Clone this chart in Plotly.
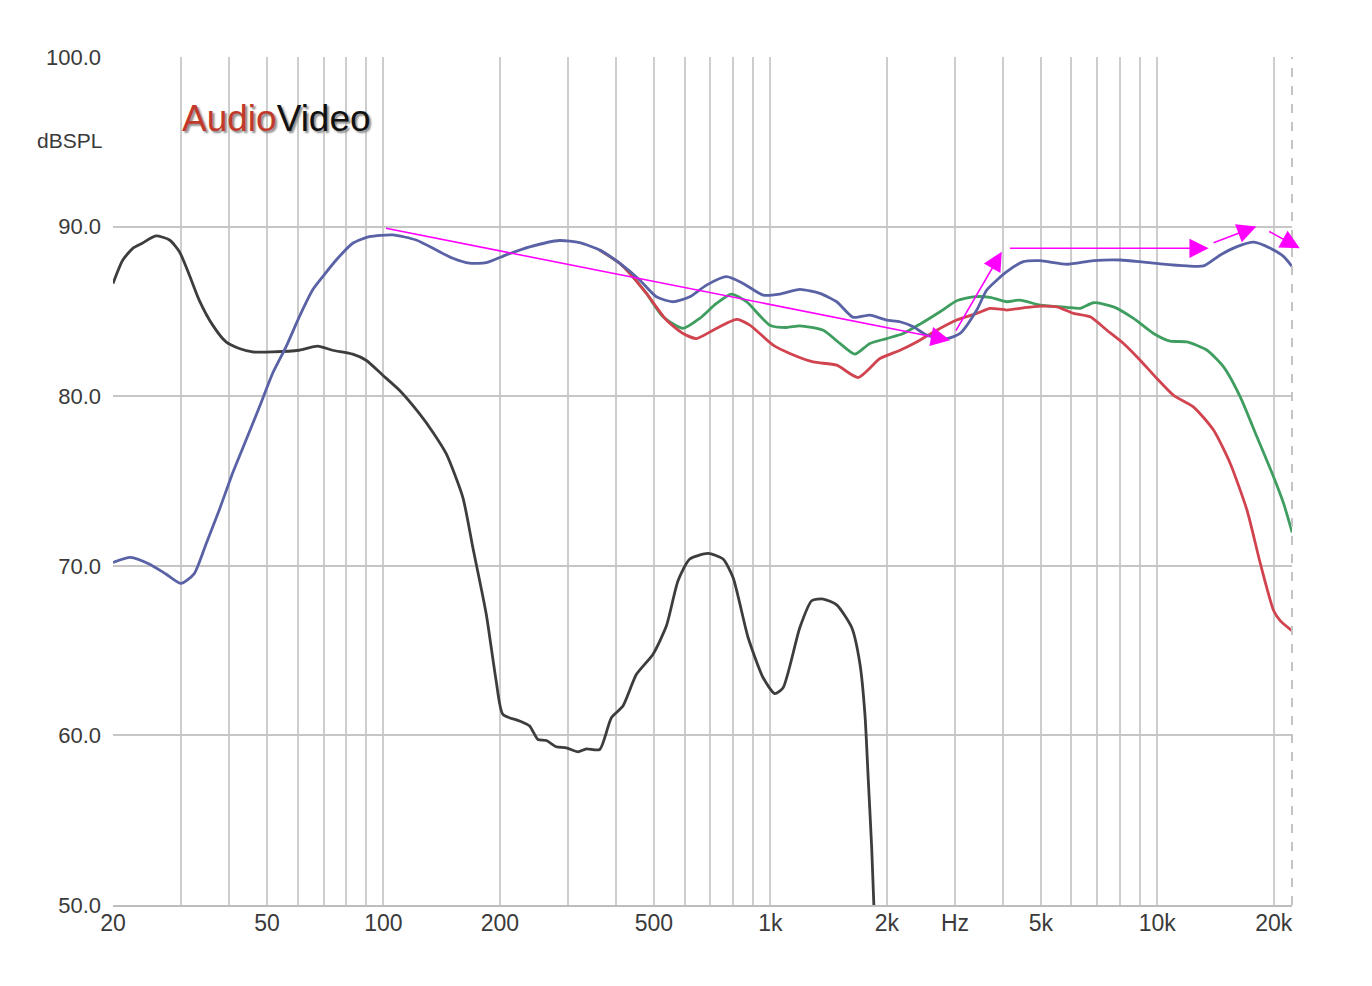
import numpy as np
import plotly.graph_objects as go

# frequency response curves (Hz, dBSPL)
black_hz = [20, 21.2, 22.5, 23.8, 25.8, 28.0, 29.7, 31.5, 33.4, 36.2, 39.2, 42.4, 45.9,
            51.7, 60.6, 67.6, 73.9, 83.3, 90.2, 99.6, 110, 123.9, 134.2, 145.3, 160.4,
            170.2, 184.4, 195.6, 203.5, 224.8, 238.7, 250.7, 263.6, 279.8, 297, 318.2,
            334.6, 362.2, 388.3, 416, 450.7, 497.5, 538.8, 577.3, 619, 690.4, 754.7, 801,
            876, 958, 1027, 1079, 1192, 1279, 1370, 1484, 1623, 1705, 1756, 1792, 1828, 1853]
black_db = [86.65, 88.03, 88.72, 89.02, 89.45, 89.21, 88.52, 87.15, 85.67, 84.19, 83.20,
            82.81, 82.61, 82.61, 82.71, 82.95, 82.71, 82.48, 82.12, 81.24, 80.35, 78.97,
            77.88, 76.61, 74.04, 71.09, 67.15, 63.21, 61.24, 60.85, 60.55, 59.76, 59.70,
            59.33, 59.27, 59.03, 59.21, 59.17, 61.04, 61.73, 63.60, 64.79, 66.46, 69.12,
            70.40, 70.73, 70.40, 69.31, 65.77, 63.40, 62.46, 62.81, 66.36, 67.94, 68.04,
            67.70, 66.36, 64.20, 61.24, 57.30, 53.36, 49.81]

blue_hz = [20, 22.2, 24.8, 27.4, 30.0, 32.4, 34.8, 37.6, 40.7, 44.1, 47.8, 51.7, 56.0,
           60.6, 65.6, 69.7, 75.5, 83.3, 92.0, 105.7, 121.5, 136.9, 151.1, 166.9, 184.4,
           207.7, 238.7, 285.4, 321.5, 362.2, 407.9, 459.6, 507.5, 560.5, 619, 683.8,
           770.2, 850.5, 958, 1058, 1192, 1343, 1484, 1638, 1809, 1998, 2163, 2342, 2536,
           2858, 3093, 3416, 3626, 4085, 4510, 4982, 5841, 6842, 8022, 9036, 10180, 11940,
           13180, 14560, 16080, 17750, 19610, 21230, 22320]
blue_db = [70.20, 70.50, 70.11, 69.52, 68.96, 69.52, 71.29, 73.26, 75.43, 77.39, 79.36,
           81.34, 82.91, 84.68, 86.26, 87.05, 88.03, 89.02, 89.41, 89.51, 89.21, 88.62,
           88.13, 87.84, 87.87, 88.33, 88.80, 89.18, 89.05, 88.62, 87.84, 86.85, 85.86,
           85.57, 85.86, 86.55, 87.05, 86.65, 85.96, 86.02, 86.30, 86.06, 85.57, 84.65,
           84.78, 84.49, 84.39, 84.09, 83.60, 83.40, 83.70, 85.08, 86.26, 87.34, 87.93,
           87.99, 87.78, 87.99, 88.03, 87.93, 87.80, 87.68, 87.68, 88.33, 88.82, 89.08,
           88.72, 88.23, 87.64]

green_hz = [362.2, 407.9, 433.0, 478.4, 528.1, 594.9, 657.0, 725.6, 793.4, 867.6, 997,
            1101, 1192, 1370, 1513, 1654, 1809, 1998, 2206, 2437, 2746, 3033, 3347, 3699,
            4085, 4420, 4982, 5841, 6322, 6842, 7708, 8684, 9781, 10800, 11940, 13450,
            14840, 16400, 18110, 20000, 21230, 22320]
green_db = [88.62, 87.84, 87.25, 86.06, 84.68, 84.00, 84.59, 85.47, 86.02, 85.57, 84.19,
            84.05, 84.15, 83.89, 83.11, 82.48, 83.11, 83.40, 83.70, 84.25, 84.98, 85.63,
            85.86, 85.83, 85.57, 85.67, 85.37, 85.24, 85.18, 85.51, 85.27, 84.59, 83.70,
            83.25, 83.20, 82.71, 81.73, 79.95, 77.59, 75.22, 73.65, 71.97]

red_hz = [362.2, 407.9, 433.0, 478.4, 538.8, 594.9, 644.2, 711.2, 817.7, 885.1, 1017,
          1123, 1291, 1484, 1687, 1920, 2163, 2389, 2692, 3033, 3416, 3699, 4085, 4510,
          4982, 5502, 6075, 6709, 7412, 8182, 9036, 9982, 11020, 12420, 13990, 15450,
          17070, 18480, 20000, 20810, 22320]
red_db = [88.62, 87.84, 87.25, 86.06, 84.49, 83.70, 83.40, 83.89, 84.53, 84.19, 83.01,
          82.52, 82.02, 81.83, 81.10, 82.22, 82.71, 83.20, 83.89, 84.49, 84.88, 85.18,
          85.08, 85.21, 85.31, 85.27, 84.88, 84.68, 83.89, 83.11, 82.12, 81.04, 80.05,
          79.36, 77.99, 76.02, 73.26, 70.11, 67.35, 66.75, 66.16]

# magenta arrows: tail (Hz, dB) -> head (Hz, dB)
arrow_tail_hz = [100.6, 3002, 4124, 13860, 19300]
arrow_tail_db = [89.92, 83.78, 88.72, 89.02, 89.76]
arrow_head_hz = [2914, 3965, 13580, 18040, 23360]
arrow_head_db = [83.30, 88.52, 88.72, 90.00, 88.72]

tick_hz = [20, 50, 100, 200, 500, 1000, 2000, 3000, 5000, 10000, 20000]
tick_txt = ['20', '50', '100', '200', '500', '1k', '2k', 'Hz', '5k', '10k', '20k']
db_ticks = [50, 60, 70, 80, 90, 100]
db_txt = ['50.0', '60.0', '70.0', '80.0', '90.0', '100.0']

minor_hz = []
for dec in [10, 100, 1000, 10000]:
    for m in range(1, 10):
        f = dec * m
        if 20 < f <= 20000 and f not in tick_hz:
            minor_hz.append(f)

FONT = 'Liberation Sans, Arial, sans-serif'
GRID = '#cdcdcd'


def curve(x, y, color):
    return go.Scatter(x=x, y=y, mode='lines',
                      line=dict(color=color, width=2.8, shape='spline', smoothing=0.6),
                      showlegend=False, hoverinfo='skip')


data = [
    curve(black_hz, black_db, '#3d3d3d'),
    curve(green_hz, green_db, '#3f9d60'),
    curve(red_hz, red_db, '#d0434f'),
    curve(blue_hz, blue_db, '#5a62a6'),
]
fig = go.Figure(data)

annotations = []
for tx, ty, hx, hy in zip(arrow_tail_hz, arrow_tail_db, arrow_head_hz, arrow_head_db):
    annotations.append(dict(
        x=np.log10(hx), y=hy, ax=np.log10(tx), ay=ty,
        xref='x', yref='y', axref='x', ayref='y',
        text='', showarrow=True, arrowhead=2, arrowsize=2.4,
        arrowwidth=1.6, arrowcolor='#ff00ff', standoff=0, startstandoff=0))

# logo
logo = "<span style='color:#c1392b'>Audio</span><span style='color:#111111'>Video</span>"
annotations.append(dict(x=0.139, y=96.4, xref='paper', yref='y', showarrow=False,
                        xanchor='center', yanchor='middle', text=logo,
                        font=dict(family='Liberation Sans Narrow, Arial Narrow, Liberation Sans, sans-serif',
                                  size=37, shadow='2px 2px 2px #8a8a8a')))
annotations.append(dict(x=-0.037, y=95.1, xref='paper', yref='y', showarrow=False,
                        xanchor='center', yanchor='middle',
                        text='dBSPL', font=dict(family=FONT, size=21, color='#3a3a3a')))

# the page has an 8 px body margin, so the figure is kept 16 px smaller than the window
fig.update_layout(
    width=1356, height=970,
    margin=dict(l=105, r=72, t=49, b=73),
    paper_bgcolor='white', plot_bgcolor='white',
    annotations=annotations,
    shapes=[
        dict(type='line', xref='paper', yref='paper', x0=1, x1=1, y0=0, y1=1,
             line=dict(color='#c4c4c4', width=2, dash='dash')),
    ],
)
fig.update_xaxes(
    type='log', range=[np.log10(20), np.log10(22300)],
    tickmode='array', tickvals=tick_hz, ticktext=tick_txt,
    showgrid=True, gridcolor=GRID, gridwidth=2,
    minor=dict(tickmode='array', tickvals=minor_hz, showgrid=True,
               gridcolor=GRID, gridwidth=2),
    showline=True, linecolor='#bdbdbd', linewidth=2,
    ticks='', ticklabelstandoff=-4,
    tickfont=dict(family=FONT, size=23, color='#3a3a3a'),
    zeroline=False,
)
fig.update_yaxes(
    range=[50, 100], tickmode='array', tickvals=db_ticks, ticktext=db_txt,
    showgrid=True, gridcolor='#c6c6c6', gridwidth=2,
    showline=False, ticks='', zeroline=False, ticklabelstandoff=11,
    tickfont=dict(family=FONT, size=22, color='#3a3a3a'),
)

fig.write_html("out.html")
